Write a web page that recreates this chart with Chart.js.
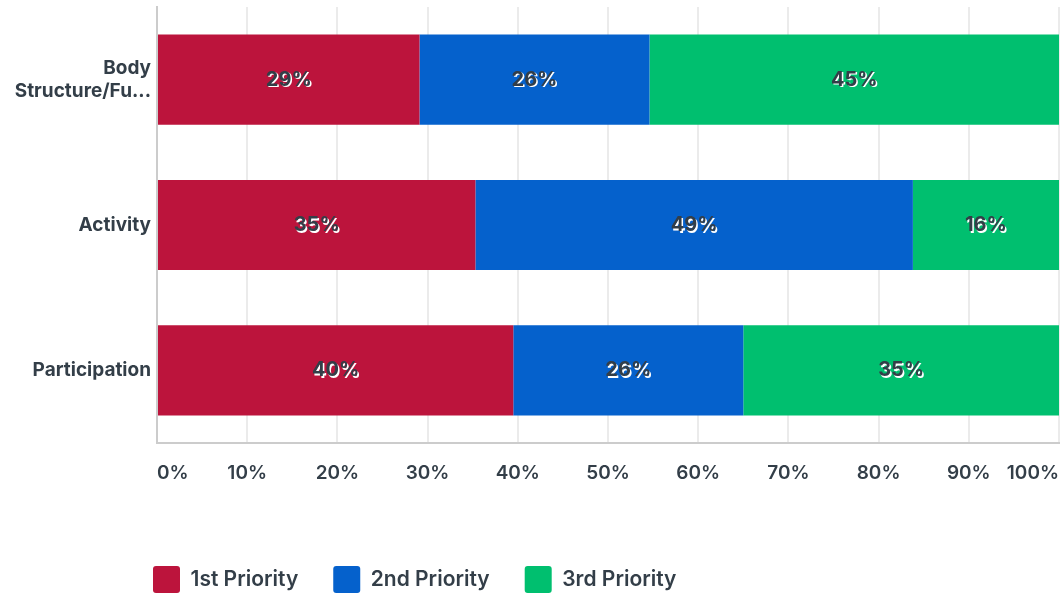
<!DOCTYPE html>
<html>
<head>
<meta charset="utf-8">
<script src="https://cdn.jsdelivr.net/npm/chart.js@4/dist/chart.umd.min.js"></script>
<style>
  html, body { margin: 0; padding: 0; background: #fff; }
  #wrap { width: 1062px; height: 594px; position: relative; }
</style>
</head>
<body>
<div id="wrap"><canvas id="chart"></canvas></div>
<script>
// categories (top to bottom)
const categories = [['Body', 'Structure/Fu...'], 'Activity', 'Participation'];
// series, percent of respondents
const firstPriority = [29.1, 35.3, 39.5];
const secondPriority = [25.5, 48.5, 25.5];
const thirdPriority = [45.4, 16.2, 35.0];
const seriesNames = ['1st Priority', '2nd Priority', '3rd Priority'];
const seriesColors = ['#bc143c', '#0561cc', '#00bf6f'];

const textColor = '#333e48';
const fontFamily = 'Inter, "Open Sans", sans-serif';

// draws the % label in the middle of each bar piece
const barLabels = {
  id: 'barLabels',
  afterDatasetsDraw(chart) {
    const ctx = chart.ctx;
    ctx.save();
    ctx.font = '700 20px ' + fontFamily;
    ctx.textAlign = 'center';
    ctx.textBaseline = 'middle';
    chart.data.datasets.forEach((ds, i) => {
      chart.getDatasetMeta(i).data.forEach((bar, j) => {
        const txt = Math.round(ds.data[j]) + '%';
        const p = bar.getCenterPoint();
        ctx.fillStyle = '#ffffff';
        ctx.fillText(txt, p.x + 1.5, p.y + 1.5);
        ctx.fillStyle = textColor;
        ctx.fillText(txt, p.x, p.y);
      });
    });
    ctx.restore();
  }
};

// nudge the legend to sit where the original one does
const legendShift = {
  id: 'legendShift',
  afterLayout(chart) {
    const lg = chart.legend;
    lg.left -= 39; lg.right -= 39;
    lg.top += 9; lg.bottom += 9;
  }
};

const data = [firstPriority, secondPriority, thirdPriority];

new Chart(document.getElementById('chart'), {
  type: 'bar',
  data: {
    labels: categories,
    datasets: data.map((d, i) => ({
      label: seriesNames[i],
      data: d,
      backgroundColor: seriesColors[i],
      borderWidth: 0,
      barPercentage: 0.62,
      categoryPercentage: 1.0
    }))
  },
  options: {
    indexAxis: 'y',
    responsive: true,
    maintainAspectRatio: false,
    animation: false,
    layout: { padding: { top: 7, right: 3, left: 0, bottom: 0 } },
    plugins: {
      tooltip: { enabled: false },
      legend: {
        position: 'bottom',
        align: 'start',
        fullSize: false,
        labels: {
          color: textColor,
          font: { family: fontFamily, size: 21, weight: '600' },
          boxWidth: 27,
          boxHeight: 27,
          useBorderRadius: true,
          borderRadius: 3,
          padding: 35
        }
      }
    },
    scales: {
      x: {
        stacked: true,
        min: 0,
        max: 100,
        ticks: {
          stepSize: 10,
          align: 'inner',
          padding: 19,
          color: textColor,
          font: { family: fontFamily, size: 19, weight: '600' },
          callback: v => v + '%'
        },
        grid: { color: '#ebebeb', lineWidth: 2, drawTicks: false },
        border: { color: '#cccccc', width: 2 },
        afterFit(s) { s.height = 79; s.paddingLeft = 0; s.paddingRight = 0; }
      },
      y: {
        stacked: true,
        ticks: {
          color: textColor,
          padding: 6,
          font: { family: fontFamily, size: 19, weight: '700' }
        },
        grid: { display: false, drawTicks: false },
        border: { color: '#cccccc', width: 2 },
        afterFit(s) { s.width = 157; s.paddingTop = 0; s.paddingBottom = 0; }
      }
    }
  },
  plugins: [barLabels, legendShift]
});
</script>
</body>
</html>
